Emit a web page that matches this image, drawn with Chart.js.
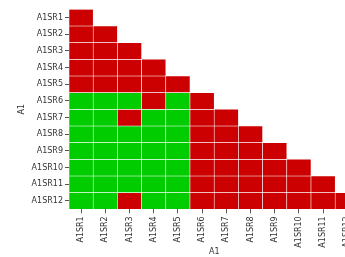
<!DOCTYPE html>
<html>
<head>
<meta charset="utf-8">
<script src="https://cdn.jsdelivr.net/npm/chart.js@4/dist/chart.umd.min.js"></script>
<style>
  html, body { margin: 0; padding: 0; background: #fff; overflow: hidden; }
  canvas { display: block; }
</style>
</head>
<body>
<canvas id="heatmap" width="380" height="257"></canvas>
<script>
const colLabels = ["A1SR1", "A1SR2", "A1SR3", "A1SR4", "A1SR5", "A1SR6", "A1SR7", "A1SR8", "A1SR9", "A1SR10", "A1SR11", "A1SR12"];
const rowLabels = ["A1SR1", "A1SR2", "A1SR3", "A1SR4", "A1SR5", "A1SR6", "A1SR7", "A1SR8", "A1SR9", "A1SR10", "A1SR11", "A1SR12"];

// 1 = red, 0 = green (lower triangle only)
const cellValues = [
  [1],
  [1, 1],
  [1, 1, 1],
  [1, 1, 1, 1],
  [1, 1, 1, 1, 1],
  [0, 0, 0, 1, 0, 1],
  [0, 0, 1, 0, 0, 1, 1],
  [0, 0, 0, 0, 0, 1, 1, 1],
  [0, 0, 0, 0, 0, 1, 1, 1, 1],
  [0, 0, 0, 0, 0, 1, 1, 1, 1, 1],
  [0, 0, 0, 0, 0, 1, 1, 1, 1, 1, 1],
  [0, 0, 1, 0, 0, 1, 1, 1, 1, 1, 1, 1],
];

const RED = "#cc0000";
const GREEN = "#00cc00";
const textColor = "#333333";

// one floating-bar dataset per row
const datasets = rowLabels.map((row, i) => {
  const rowNum = i + 1;
  return {
    label: row,
    data: colLabels.map((c, j) => (j < cellValues[i].length ? [rowNum - 0.5, rowNum + 0.5] : null)),
    backgroundColor: colLabels.map((c, j) => (cellValues[i][j] === 1 ? RED : GREEN)),
    borderColor: "#ffffff",
    borderWidth: 0.6,
    borderSkipped: false,
    grouped: false,
    categoryPercentage: 1,
    barPercentage: 1,
  };
});

const ctx = document.getElementById("heatmap").getContext("2d");

new Chart(ctx, {
  type: "bar",
  data: {
    labels: colLabels,
    datasets: datasets,
  },
  options: {
    responsive: false,
    animation: false,
    layout: {
      padding: { top: 9.3, left: 0, right: 20.6, bottom: 0 },
    },
    plugins: {
      legend: { display: false },
      tooltip: { enabled: false },
    },
    scales: {
      x: {
        offset: true,
        border: { display: false },
        grid: {
          offset: false,
          drawOnChartArea: false,
          drawTicks: true,
          tickLength: 4,
          tickColor: "#555555",
        },
        ticks: {
          autoSkip: false,
          minRotation: 90,
          maxRotation: 90,
          padding: 3,
          color: textColor,
          font: { family: "DejaVu Sans", size: 8 },
        },
        title: {
          display: true,
          text: "A1",
          color: textColor,
          padding: { top: 0, bottom: 0 },
          font: { family: "DejaVu Sans", size: 8 },
        },
        afterFit: (scale) => { scale.height = 47.7; },
      },
      y: {
        type: "linear",
        reverse: true,
        min: 0.5,
        max: 12.5,
        border: { display: false },
        grid: {
          drawOnChartArea: false,
          drawTicks: true,
          tickLength: 4,
          tickColor: "#555555",
        },
        afterBuildTicks: (scale) => {
          scale.ticks = rowLabels.map((r, i) => ({ value: i + 1 }));
        },
        ticks: {
          padding: 2,
          color: textColor,
          font: { family: "DejaVu Sans", size: 8 },
          callback: (value) => rowLabels[value - 1],
        },
        title: {
          display: true,
          text: "A1",
          color: textColor,
          padding: { top: 17, bottom: 0 },
          font: { family: "DejaVu Sans", size: 8 },
        },
        afterFit: (scale) => { scale.width = 69; },
      },
    },
  },
});
</script>
</body>
</html>
